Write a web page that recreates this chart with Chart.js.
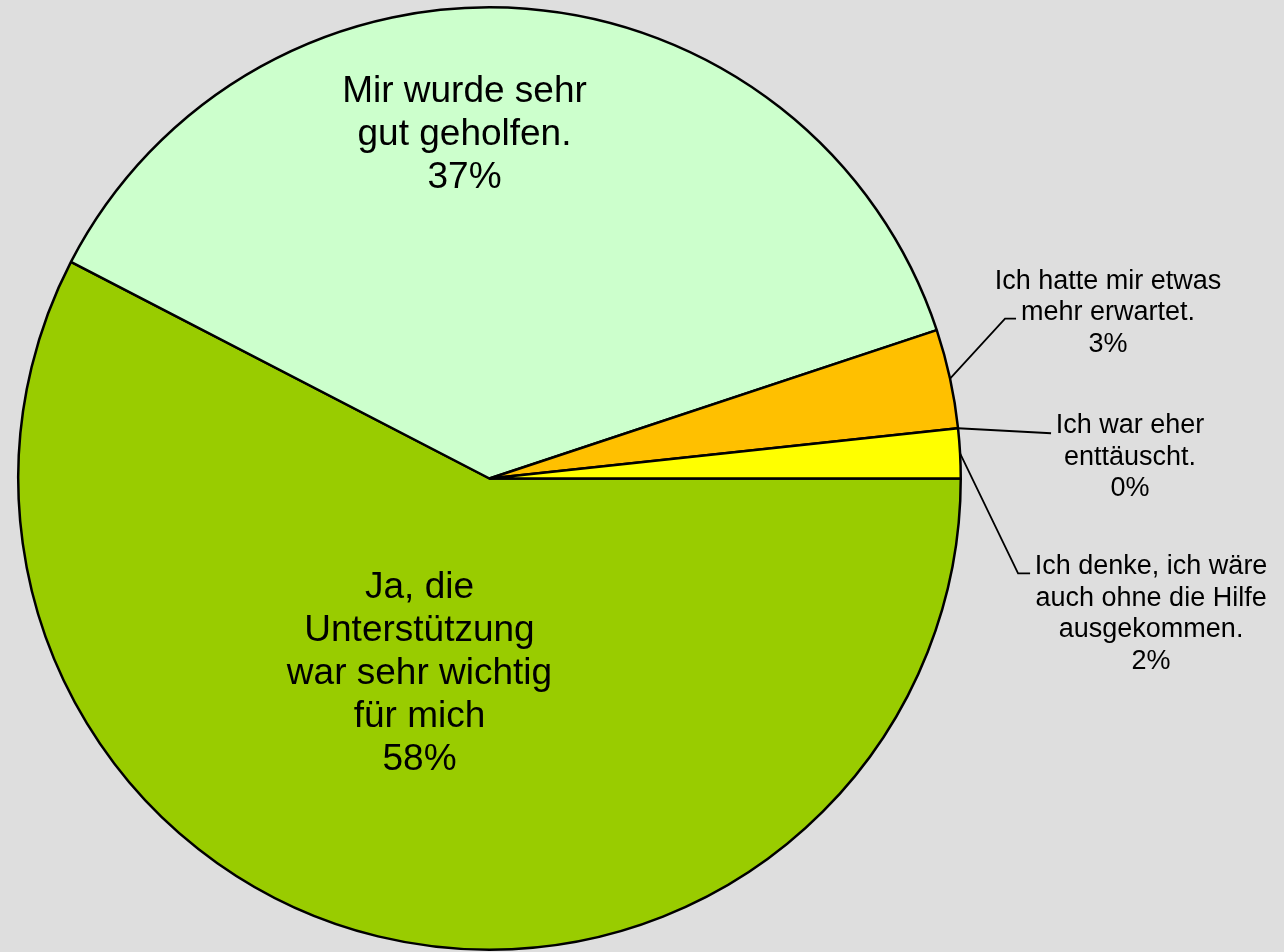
<!DOCTYPE html>
<html>
<head>
<meta charset="utf-8">
<script src="https://cdn.jsdelivr.net/npm/chart.js@4"></script>
<style>
  html, body { margin: 0; padding: 0; background: #dedede; }
  #wrap { width: 1284px; height: 952px; }
</style>
</head>
<body>
<div id="wrap"><canvas id="pieChart" width="1284" height="952"></canvas></div>
<script>
// Data (share of answers, %)
const labels = [
    ['Ja, die', 'Unterstützung', 'war sehr wichtig', 'für mich'],
    ['Mir wurde sehr', 'gut geholfen.'],
    ['Ich hatte mir etwas', 'mehr erwartet.'],
    ['Ich war eher', 'enttäuscht.'],
    ['Ich denke, ich wäre', 'auch ohne die Hilfe', 'ausgekommen.']
];
const values = [57.6, 37.3, 3.4, 0, 1.7];
const colors = ['#99cc00', '#ccffcc', '#ffc000', '#ffc000', '#ffff00'];

// label placement (style only): inside labels relative to pie centre,
// outside labels relative to their anchor point on the rim
const labelStyle = [
    { inside: true, dx: -70, dy: 119 },
    { inside: true, dx: -25, dy: -377 },
    { inside: false, angle: 'mid', leader: [[55, -60], [66, -60]], dx: 158, dy: -90 },
    { inside: false, angle: 'start', leader: [[93, 5]], dx: 172, dy: 5 },
    { inside: false, angle: 'mid', leader: [[58, 120], [70, 120]], dx: 191, dy: 121 }
];

const pieLabels = {
    id: 'pieLabels',
    afterDatasetsDraw(chart) {
        const ctx = chart.ctx;
        const arcs = chart.getDatasetMeta(0).data;
        ctx.save();
        ctx.fillStyle = '#000';
        ctx.strokeStyle = '#000';
        ctx.textAlign = 'center';
        ctx.textBaseline = 'alphabetic';
        arcs.forEach((arc, i) => {
            const st = labelStyle[i];
            const pct = Math.round(values[i]) + '%';
            const lines = labels[i].concat([pct]);
            if (st.inside) {
                ctx.font = '37px "Liberation Sans", Arial, sans-serif';
                lines.forEach((t, k) => ctx.fillText(t, arc.x + st.dx, arc.y + st.dy + k * 43));
            } else {
                const a = st.angle === 'mid' ? (arc.startAngle + arc.endAngle) / 2 : arc.startAngle;
                const ax = arc.x + Math.cos(a) * arc.outerRadius;
                const ay = arc.y + Math.sin(a) * arc.outerRadius;
                ctx.lineWidth = 1.8;
                ctx.beginPath();
                ctx.moveTo(ax, ay);
                st.leader.forEach(p => ctx.lineTo(ax + p[0], ay + p[1]));
                ctx.stroke();
                ctx.font = '27px "Liberation Sans", Arial, sans-serif';
                lines.forEach((t, k) => ctx.fillText(t, ax + st.dx, ay + st.dy + k * 31.5));
            }
        });
        ctx.restore();
    }
};

const ctx = document.getElementById('pieChart').getContext('2d');
const pieChart = new Chart(ctx, {
    type: 'pie',
    data: {
        labels: labels.map(l => l.join(' ')),
        datasets: [{
            data: values,
            backgroundColor: colors,
            borderColor: '#000',
            borderWidth: 2.5
        }]
    },
    options: {
        responsive: false,
        animation: false,
        rotation: 90,
        layout: { padding: { left: 17, top: 6, right: 322, bottom: 1 } },
        plugins: {
            legend: { display: false },
            tooltip: { enabled: false }
        }
    },
    plugins: [pieLabels]
});
</script>
</body>
</html>
